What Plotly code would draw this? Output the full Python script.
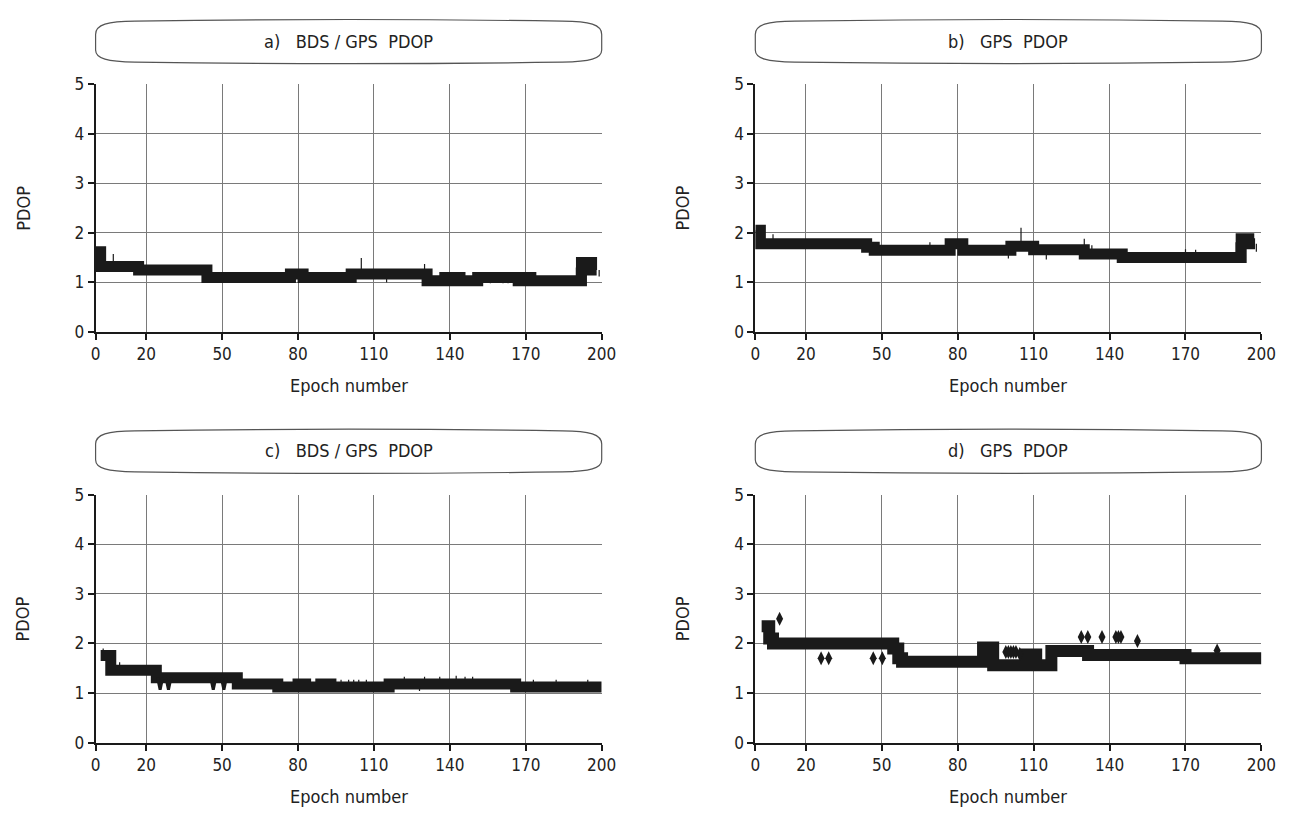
import plotly.graph_objects as go

W, H = 1303, 816
FONT = "Liberation Sans Narrow, Arial Narrow, DejaVu Sans Condensed, Liberation Sans, sans-serif"

# ---------------- data ----------------
tick_epochs = [0, 20, 50, 80, 110, 140, 170, 200]

# a) BDS / GPS PDOP : step levels (epoch where level starts, PDOP)
a_start = [0, 2, 17, 44, 77, 82, 101, 131, 138, 141, 142, 144, 151, 167, 170, 172, 192, 196]
a_pdop = [1.62, 1.32, 1.25, 1.10, 1.17, 1.10, 1.17, 1.03, 1.10, 1.03, 1.10, 1.03, 1.10, 1.03, 1.10, 1.03, 1.40, 1.25]
a_end = 198
a_spike_epoch = [7, 105, 115, 130, 156, 161, 163, 190, 191, 199]
a_spike_pdop = [1.57, 1.49, 1.00, 1.37, 0.98, 0.98, 0.98, 1.30, 1.30, 1.12]

# b) GPS PDOP
b_start = [0, 2, 44, 47, 77, 82, 101, 110, 130, 145, 192, 195]
b_pdop = [2.05, 1.78, 1.71, 1.65, 1.78, 1.65, 1.73, 1.66, 1.57, 1.50, 1.88, 1.78]
b_end = 197.5
b_spike_epoch = [7, 69, 100, 105, 115, 130, 133, 170, 174, 190, 198]
b_spike_pdop = [1.97, 1.81, 1.48, 2.10, 1.46, 1.88, 1.75, 1.67, 1.66, 1.81, 1.62]

# c) BDS / GPS PDOP
c_start = [2, 6, 24, 56, 72, 80, 83, 89, 93, 116, 166]
c_pdop = [1.76, 1.46, 1.31, 1.18, 1.12, 1.18, 1.12, 1.18, 1.12, 1.18, 1.12]
c_end = 200
c_spike_epoch = [3, 9.5, 97, 100, 102, 104, 107, 122, 128, 130, 136, 142.5, 146, 149, 173, 182, 194.5]
c_spike_pdop = [1.90, 1.62, 1.27, 1.27, 1.27, 1.27, 1.27, 1.33, 1.04, 1.33, 1.33, 1.35, 1.33, 1.33, 1.27, 1.27, 1.27]
c_dip_epoch = [25.5, 28.8, 46.5, 50.7]
c_dip_pdop = [1.07, 1.07, 1.07, 1.07]

# d) GPS PDOP
d_start = [2.5, 5.5, 7, 54.5, 56.5, 58, 90, 94, 107, 111, 117, 131.5, 170]
d_pdop = [2.35, 2.10, 2.00, 1.90, 1.70, 1.63, 1.92, 1.56, 1.78, 1.56, 1.85, 1.77, 1.70]
d_end = 200
d_point_epoch = [9.6, 26, 29, 46.6, 50.2, 99, 100, 101, 102, 103, 104.5,
                 128.8, 131.4, 137, 142.5, 143.5, 144.5, 151, 182.5]
d_point_pdop = [2.50, 1.70, 1.70, 1.70, 1.70, 1.83, 1.83, 1.83, 1.83, 1.83, 1.79,
                2.13, 2.13, 2.13, 2.13, 2.13, 2.13, 2.05, 1.86]

titles = ["a)\u00a0\u00a0\u00a0BDS / GPS\u00a0\u00a0PDOP", "b)\u00a0\u00a0\u00a0GPS\u00a0\u00a0PDOP",
          "c)\u00a0\u00a0\u00a0BDS / GPS\u00a0\u00a0PDOP", "d)\u00a0\u00a0\u00a0GPS\u00a0\u00a0PDOP"]

# ---------------- layout geometry (pixels) ----------------
col_x = [(92, 606), (762, 1276)]
row_y = [(76, 330), (497, 751)]
box_y = [(10, 54), (430, 474)]


def px(x):
    return x / W


def py(y):
    return 1 - y / H


def level_at(starts, values, e):
    v = values[0]
    for s, val in zip(starts, values):
        if e >= s:
            v = val
    return v


fig = go.Figure()

panels = [
    (a_start, a_pdop, a_end, a_spike_epoch, a_spike_pdop),
    (b_start, b_pdop, b_end, b_spike_epoch, b_spike_pdop),
    (c_start, c_pdop, c_end, c_spike_epoch, c_spike_pdop),
    (d_start, d_pdop, d_end, [], []),
]

shapes = []
annotations = []
INK = "#1a1a1a"

for i, (starts, vals, end, sp_e, sp_v) in enumerate(panels):
    r, c = divmod(i, 2)
    n = i + 1
    xa = "x" if n == 1 else f"x{n}"
    ya = "y" if n == 1 else f"y{n}"

    # thin spikes from the level up/down to the spike value
    sx, sy = [], []
    for e, v in zip(sp_e, sp_v):
        sx += [e, e, None]
        sy += [level_at(starts, vals, e), v, None]
    if sx:
        fig.add_trace(go.Scatter(x=sx, y=sy, mode="lines", xaxis=xa, yaxis=ya,
                                 line=dict(color=INK, width=1.2), hoverinfo="skip",
                                 showlegend=False))

    # PDOP level bands
    fig.add_trace(go.Scatter(x=starts + [end], y=vals + [vals[-1]], mode="lines",
                             xaxis=xa, yaxis=ya,
                             line=dict(color=INK, width=12 if i == 3 else 11, shape="hv"),
                             showlegend=False))

    if i == 2:
        dx, dy = [], []
        for e, v in zip(c_dip_epoch, c_dip_pdop):
            base = level_at(starts, vals, e)
            dx += [e - 1, e, e + 1, None]
            dy += [base, v, base, None]
        fig.add_trace(go.Scatter(x=dx, y=dy, mode="lines", xaxis=xa, yaxis=ya,
                                 line=dict(color=INK, width=3), showlegend=False))
    if i == 3:
        fig.add_trace(go.Scatter(x=d_point_epoch, y=d_point_pdop, mode="markers",
                                 xaxis=xa, yaxis=ya,
                                 marker=dict(symbol="diamond-tall", size=10, color=INK),
                                 error_y=dict(type="constant", value=0.09, color=INK,
                                              thickness=1, width=0),
                                 showlegend=False))

    x0, x1 = col_x[c]
    y0, y1 = row_y[r]
    axis_common = dict(showline=True, linecolor=INK, linewidth=2, ticks="outside",
                       ticklen=6, tickwidth=1.5, tickcolor=INK, showgrid=True,
                       gridcolor="#7a7a7a", gridwidth=1, zeroline=False,
                       tickfont=dict(family=FONT, size=17, color="#222"))
    fig.layout[f"xaxis{'' if n == 1 else n}"] = dict(
        domain=[px(x0), px(x1)], range=[0, 200], tickvals=tick_epochs,
        anchor=ya, **axis_common)
    fig.layout[f"yaxis{'' if n == 1 else n}"] = dict(
        domain=[py(y1), py(y0)], range=[0, 5], dtick=1, tick0=0,
        anchor=xa, **axis_common)

    # axis titles
    annotations.append(dict(text="Epoch number", x=px((x0 + x1) / 2), y=py(y1 + 55),
                            xref="paper", yref="paper", showarrow=False,
                            xanchor="center", yanchor="middle",
                            font=dict(family=FONT, size=18, color="#222")))
    annotations.append(dict(text="PDOP", x=px(x0 - 74), y=py((y0 + y1) / 2),
                            xref="paper", yref="paper", showarrow=False, textangle=-90,
                            xanchor="center", yanchor="middle",
                            font=dict(family=FONT, size=18, color="#222")))

    # rounded title box
    bt, bb = box_y[r]
    L, R = x0, x1
    cx = (L + R) / 2
    pts = [
        ("M", [(L + 40, bt + 1.5)]),
        ("Q", [(cx, bt - 2), (R - 40, bt + 1.5)]),
        ("C", [(R - 12, bt + 1.5), (R, bt + 5), (R, bt + 15)]),
        ("L", [(R, bb - 13)]),
        ("C", [(R, bb - 4), (R - 12, bb - 1), (R - 40, bb - 0.5)]),
        ("Q", [(cx, bb + 2.5), (L + 40, bb - 0.5)]),
        ("C", [(L + 12, bb - 1), (L, bb - 4), (L, bb - 13)]),
        ("L", [(L, bt + 15)]),
        ("C", [(L, bt + 5), (L + 12, bt + 1.5), (L + 40, bt + 1.5)]),
    ]
    path = ""
    for cmd, plist in pts:
        path += cmd + " " + " ".join(f"{px(x):.5f},{py(y):.5f}" for x, y in plist) + " "
    path += "Z"
    shapes.append(dict(type="path", path=path, xref="paper", yref="paper",
                       line=dict(color="#555", width=1.2), fillcolor="rgba(0,0,0,0)"))
    annotations.append(dict(text=titles[i], x=px(cx), y=py((bt + bb) / 2),
                            xref="paper", yref="paper", showarrow=False,
                            xanchor="center", yanchor="middle",
                            font=dict(family=FONT, size=18, color="#222")))

fig.update_layout(width=W, height=H, autosize=False,
                  margin=dict(l=0, r=0, t=0, b=0),
                  paper_bgcolor="white", plot_bgcolor="white",
                  shapes=shapes, annotations=annotations, showlegend=False)

fig.write_html("out.html")
